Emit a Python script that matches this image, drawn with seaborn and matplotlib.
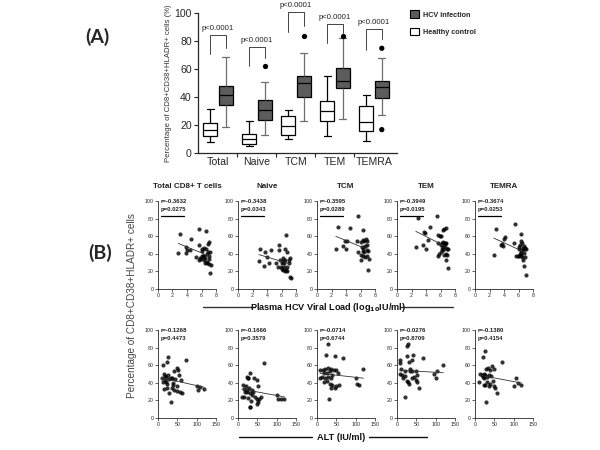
import numpy as np
import pandas as pd
import matplotlib
matplotlib.use('Agg')
import matplotlib.pyplot as plt
import seaborn as sns
from matplotlib.patches import Patch
from matplotlib.lines import Line2D

sns.set_theme(style='ticks')
plt.rcParams['font.family'] = ['Liberation Sans', 'DejaVu Sans']

# ---------------- Panel A data ----------------
groups = ['Total', 'Naive', 'TCM', 'TEM', 'TEMRA']
conditions = ['Healthy control', 'HCV infection']
healthy_low = [7.9, 5.2, 10.2, 11.9, 8.3]
healthy_q1 = [12.4, 6.7, 12.9, 22.6, 15.5]
healthy_med = [16.7, 10.0, 19.0, 30.2, 21.9]
healthy_q3 = [21.4, 13.6, 26.2, 36.9, 33.3]
healthy_high = [31.4, 23.1, 31.0, 55.0, 41.7]
hcv_low = [18.6, 12.9, 22.6, 24.3, 27.1]
hcv_q1 = [34.3, 23.8, 40.0, 46.2, 39.3]
hcv_med = [41.7, 31.0, 50.0, 51.4, 47.1]
hcv_q3 = [48.1, 38.1, 54.8, 60.7, 51.4]
hcv_high = [68.3, 51.0, 71.4, 81.9, 68.1]
outlier_group = ['Naive', 'TCM', 'TEM', 'TEMRA', 'TEMRA']
outlier_value = [62.4, 83.8, 83.8, 74.8, 16.7]
p_labels = ['p<0.0001'] * 5
bracket_top = [84.5, 75.7, 100.7, 92.1, 88.6]
bracket_left_end = [70.7, 62.4, 86.7, 78.6, 73.3]
bracket_right_end = [75.0, 67.9, 90.5, 85.7, 81.4]

# ---------------- Panel B data ----------------
panel_titles = ['Total CD8+ T cells', 'Naive', 'TCM', 'TEM', 'TEMRA']

vl_total_x = [2.8, 3.1, 3.9, 4.0, 4.4, 3.9, 4.6, 5.3, 5.6, 5.7, 5.65, 5.8, 5.9, 6.0, 6.1, 6.25, 6.4, 6.4,
              6.45, 6.5, 6.6, 6.6, 6.7, 6.7, 6.8, 6.9, 6.9, 7.0, 7.0, 7.05, 7.1, 7.2, 7.2, 7.3, 6.3, 6.0]
vl_total_y = [41, 63, 48, 44, 44, 40.5, 57, 36, 33, 68, 50, 35, 34, 37, 43, 37.5, 47, 33,
              35, 30, 66, 46, 40, 29, 31, 42, 51, 53, 37.5, 28, 34, 42, 18, 27, 38, 46]
vl_naive_x = [2.9, 3.1, 3.7, 3.95, 3.6, 4.3, 4.55, 5.65, 5.7, 6.5, 6.6, 6.8, 6.0, 6.2, 6.3, 6.5, 5.9,
              6.1, 6.2, 6.5, 6.6, 6.7, 7.0, 7.1, 7.2, 7.2, 7.25, 5.8, 5.3, 6.35, 6.8, 6.25, 5.56]
vl_naive_y = [32, 45.5, 42.4, 36, 26, 30, 44, 49.6, 44, 46, 61, 42, 30, 32, 29, 33, 25,
              23, 21.6, 20, 22, 21, 29, 33, 35.6, 14, 12, 33, 30, 25, 25, 35, 25]
vl_tcm_x = [2.6, 2.95, 3.6, 3.9, 4.1, 4.0, 4.5, 5.6, 5.5, 6.0, 6.4, 6.3, 6.55, 6.75, 6.95, 6.2,
            6.4, 6.6, 6.85, 6.3, 6.5, 6.85, 7.05, 6.1, 6.4, 6.6, 6.95, 7.2, 7.1, 5.7, 6.0]
vl_tcm_y = [45, 70, 49, 54, 54, 45, 69, 83, 54, 53, 67, 56, 55, 57, 55, 48,
            47, 49, 50, 43, 42, 44, 43, 39, 38, 36, 38, 34, 21.6, 42, 33]
vl_tem_x = [2.6, 2.95, 3.6, 3.7, 3.8, 3.95, 4.3, 4.6, 5.5, 5.6, 5.7, 5.9, 6.1, 5.6, 5.8, 6.0, 6.1,
            6.2, 6.3, 6.5, 6.8, 6.3, 6.4, 6.5, 6.6, 6.7, 6.8, 6.9, 7.0, 6.3, 6.5, 6.7, 6.8, 6.95,
            7.0, 6.6, 6.2]
vl_tem_y = [48, 81, 50, 65, 64, 46, 56, 71, 83, 52, 61, 60, 60, 38, 40, 42, 50,
            52, 67, 68, 69, 48, 53, 50, 51, 52, 47, 46, 45, 44, 39, 40, 33, 39,
            24, 52, 46]
vl_temra_x = [2.6, 2.95, 3.6, 3.7, 3.8, 3.95, 4.2, 5.5, 5.4, 5.7, 5.9, 6.0, 6.1, 6.2, 6.3, 6.4,
              6.5, 6.6, 6.7, 6.8, 6.9, 7.0, 6.2, 6.4, 6.5, 6.6, 6.7, 6.9, 6.3, 6.0, 7.0, 6.5, 6.8]
vl_temra_y = [39, 68, 50, 51, 49, 57, 59, 74, 52, 38, 37, 45, 48, 50, 63, 55,
              52, 47, 49, 46, 47, 45, 40, 39, 36, 33, 26, 36, 42, 38, 16, 44, 41]

alt_total_x = [12, 14, 15.5, 15.5, 18, 18, 21, 22, 24, 24, 27, 27, 29, 29, 33, 33, 35, 35, 38, 40,
               41, 42, 44, 48, 48, 48, 53, 55, 57, 59, 61, 72, 100, 104, 109, 120, 10, 20]
alt_total_y = [41, 60, 50, 33, 43, 48, 40.5, 34, 39, 64, 69, 49, 44, 28, 45, 18, 46, 34, 40, 37.5,
               32, 53, 44, 57, 31, 36, 54.5, 49, 29, 43, 28, 66, 36, 32, 35.6, 32.5, 46, 47]
alt_naive_x = [10, 14, 16, 16, 18, 22, 22, 25, 27, 27, 28, 30, 31, 31, 31, 34, 35, 37, 40, 42,
               44, 48, 48, 50, 53, 53, 55, 59, 66, 100, 104, 110, 120, 20, 24]
alt_naive_y = [24, 38, 33, 24, 30, 47, 32, 46, 45, 23, 34, 12, 51, 28, 13, 19, 32, 26, 30, 45,
               24, 43, 22, 16, 18, 36, 22, 24, 62, 26, 22, 22, 22, 36, 30]
alt_tcm_x = [8, 8, 12, 15, 17, 18, 21, 21, 23, 25, 27, 29, 29, 29, 32, 33, 33, 37, 37, 37,
             40, 40, 43, 46, 46, 50, 50, 54, 58, 67, 100, 104, 108, 120]
alt_tcm_y = [55, 45, 47, 55, 41, 51, 56, 46, 72, 42, 51, 84, 57, 47, 22, 53, 39, 56, 45, 34,
             49, 37, 55, 70, 34, 55, 36, 51, 37.5, 68.6, 45, 39, 38, 56]
alt_tem_x = [7, 7, 9, 11, 14, 16, 20, 20, 20, 25, 25, 26, 29, 29, 32, 32, 33, 33, 38, 38,
             40, 42, 44, 49, 49, 51, 53, 56, 67, 96, 100, 104, 120]
alt_tem_y = [66, 50, 63, 56, 49, 45, 53, 48, 24, 82, 42, 70, 84, 40.5, 64, 39, 53, 56, 66, 45,
             53, 72, 47, 53, 43, 41, 49, 34, 68, 50, 46, 53, 60]
alt_temra_x = [11, 13.5, 18, 20, 20, 22.5, 24, 24, 27, 27, 27, 29, 29, 31, 31, 33, 36, 36, 40, 40,
               42, 45, 47, 49, 49, 51, 56, 69, 101, 105, 110, 120]
alt_temra_y = [40.5, 50, 49, 69, 47, 50, 45, 38, 76, 49, 37, 56, 18, 47, 40.5, 57, 49, 36, 55, 39,
               48, 59, 42.5, 56, 36, 34, 28, 64, 36, 46, 40, 38]

vl_r = ['r=-0.3632', 'r=-0.3438', 'r=-0.3595', 'r=-0.3949', 'r=-0.3674']
vl_p = ['p=0.0275', 'p=0.0343', 'p=0.0289', 'p=0.0195', 'p=0.0253']
alt_r = ['r=-0.1268', 'r=-0.1666', 'r=-0.0714', 'r=-0.0276', 'r=-0.1380']
alt_p = ['p=0.4473', 'p=0.3579', 'p=0.6744', 'p=0.8709', 'p=0.4154']

vl_x_ticks = [0, 2, 4, 6, 8]
alt_x_ticks = [0, 50, 100, 150]
y_ticks = [0, 20, 40, 60, 80, 100]

# ---------------- Figure ----------------
W, H = 600, 450
fig = plt.figure(figsize=(6, 4.5), dpi=100)


def rect(left, top, right, bottom):
    return [left / W, 1 - bottom / H, (right - left) / W, (bottom - top) / H]


# Panel A: box plot
rows = []
for i, g in enumerate(groups):
    for v in [healthy_low[i], healthy_q1[i], healthy_med[i], healthy_q3[i], healthy_high[i]]:
        rows.append((g, 'Healthy control', v))
    for v in [hcv_low[i], hcv_q1[i], hcv_med[i], hcv_q3[i], hcv_high[i]]:
        rows.append((g, 'HCV infection', v))
box_df = pd.DataFrame(rows, columns=['group', 'condition', 'value'])
out_df = pd.DataFrame({'group': outlier_group, 'condition': ['HCV infection'] * len(outlier_group),
                       'value': outlier_value})
box_colors = {'Healthy control': 'white', 'HCV infection': '#5c5c5c'}

axA = fig.add_axes(rect(198, 13, 397, 153))
sns.boxplot(data=box_df, x='group', y='value', hue='condition', order=groups,
            hue_order=conditions, palette=box_colors, whis=(0, 100), showfliers=False,
            width=0.8, gap=0.12, linecolor='black', linewidth=0.9, legend=False, ax=axA)
# HCV whiskers and caps drawn in grey (as in the reference)
for ln in axA.lines:
    xd = np.asarray(ln.get_xdata(), float)
    yd = np.asarray(ln.get_ydata(), float)
    if xd.size == 0:
        continue
    frac = np.mean(xd) - np.round(np.mean(xd))
    is_median = yd.size >= 2 and np.allclose(yd, yd[0]) and np.any(np.isclose(yd[0], hcv_med))
    if frac > 0.05 and not is_median:
        ln.set_color('#6e6e6e')
sns.stripplot(data=out_df, x='group', y='value', hue='condition', order=groups,
              hue_order=conditions, dodge=True, jitter=False,
              palette={'Healthy control': 'black', 'HCV infection': 'black'},
              size=3.8, legend=False, ax=axA)
axA.set_xlim(-0.51, 4.59)
axA.set_ylim(0, 100)
axA.set_yticks(y_ticks)
axA.set_xlabel('')
axA.set_ylabel('Percentage of CD8+CD38+HLADR+ cells (%)', fontsize=5.6, color='#333333',
               labelpad=2)
axA.tick_params(axis='x', which='major', length=0, labelsize=7.6, pad=3)
axA.set_xticks([0.5, 1.5, 2.5, 3.5], minor=True)
axA.tick_params(axis='x', which='minor', length=3, width=0.8)
axA.tick_params(axis='y', labelsize=7.6, length=3, width=0.8, pad=1.5)
for s in ['top', 'right']:
    axA.spines[s].set_visible(False)
for s in ['left', 'bottom']:
    axA.spines[s].set_linewidth(0.9)
for i in range(len(groups)):
    xl, xr = i - 0.2, i + 0.2
    axA.plot([xl, xl, xr, xr], [bracket_left_end[i], bracket_top[i], bracket_top[i],
                                 bracket_right_end[i]], color='#444444', lw=0.7, clip_on=False)
    axA.text(i, bracket_top[i] + 2.2, p_labels[i], ha='center', va='bottom', fontsize=5.6,
             color='#222222', clip_on=False)

handles = [Patch(facecolor='#5c5c5c', edgecolor='black', lw=0.8, label='HCV infection'),
           Patch(facecolor='white', edgecolor='black', lw=0.8, label='Healthy control')]
fig.legend(handles=handles, loc='upper left', bbox_to_anchor=(403 / W, 1 - 4 / H), frameon=False,
           prop={'size': 5.2, 'weight': 'bold'}, handlelength=1.3, handleheight=1.3,
           labelspacing=1.2, handletextpad=0.6)

fig.text(97 / W, 1 - 37 / H, '(A)', fontsize=14, fontweight='bold', family='Lato',
         ha='center', va='center')
fig.text(100 / W, 1 - 253 / H, '(B)', fontsize=14, fontweight='bold', family='Lato',
         ha='center', va='center')

# Panel B: scatter panels
lefts = [158, 238, 317, 397, 475]
pw = 58
vl_xs = [vl_total_x, vl_naive_x, vl_tcm_x, vl_tem_x, vl_temra_x]
vl_ys = [vl_total_y, vl_naive_y, vl_tcm_y, vl_tem_y, vl_temra_y]
alt_xs = [alt_total_x, alt_naive_x, alt_tcm_x, alt_tem_x, alt_temra_x]
alt_ys = [alt_total_y, alt_naive_y, alt_tcm_y, alt_tem_y, alt_temra_y]


def scatter_panel(r, x, y, xlim, xticks, rtxt, ptxt, underline):
    ax = fig.add_axes(r)
    sns.regplot(x=np.array(x, float), y=np.array(y, float), ci=None, ax=ax,
                scatter_kws=dict(s=9, color='black', linewidths=0),
                line_kws=dict(color='#333333', lw=0.6))
    ax.set_xlim(xlim)
    ax.set_ylim(0, 100)
    ax.set_xticks(xticks)
    ax.set_yticks(y_ticks)
    ax.tick_params(labelsize=3.8, length=2, width=0.5, pad=1)
    for s in ['top', 'right']:
        ax.spines[s].set_visible(False)
    for s in ['left', 'bottom']:
        ax.spines[s].set_linewidth(0.6)
    x0 = xlim[1] * 0.05
    ax.text(x0, 99, rtxt, fontsize=4.3, fontweight='bold', va='center', ha='left', color='#222')
    ax.text(x0, 90, ptxt, fontsize=4.3, fontweight='bold', va='center', ha='left', color='#222')
    if underline:
        ax.plot([x0, xlim[1] * 0.45], [83, 83], color='black', lw=0.9, clip_on=False)
    return ax


for i in range(5):
    scatter_panel(rect(lefts[i], 201, lefts[i] + pw, 289), vl_xs[i], vl_ys[i], (0, 8),
                  vl_x_ticks, vl_r[i], vl_p[i], True)
    scatter_panel(rect(lefts[i], 330, lefts[i] + pw, 418), alt_xs[i], alt_ys[i], (0, 150),
                  alt_x_ticks, alt_r[i], alt_p[i], False)
    fig.text((lefts[i] + pw / 2) / W, 1 - 187 / H, panel_titles[i], fontsize=5.8,
             fontweight='bold', ha='center', va='center', color='#222')

fig.text(132 / W, 1 - 306 / H, 'Percentage of CD8+CD38+HLADR+ cells', rotation=90,
         fontsize=7.2, color='#444444', ha='center', va='center')

fig.text(328 / W, 1 - 307 / H, r'Plasma HCV Viral Load (log$_{\mathbf{10}}$IU/ml)', fontsize=6.6,
         fontweight='bold', ha='center', va='center', color='#111')
fig.add_artist(Line2D([203 / W, 255 / W], [1 - 307 / H] * 2, color='#333', lw=1.0))
fig.add_artist(Line2D([400 / W, 453 / W], [1 - 307 / H] * 2, color='#333', lw=1.0))

fig.text(341 / W, 1 - 437 / H, 'ALT (IU/ml)', fontsize=6.6, fontweight='bold', ha='center',
         va='center', color='#111')
fig.add_artist(Line2D([239 / W, 312 / W], [1 - 437 / H] * 2, color='#111', lw=1.0))
fig.add_artist(Line2D([369 / W, 427 / W], [1 - 437 / H] * 2, color='#111', lw=1.0))

fig.savefig('out.png', dpi=100)
